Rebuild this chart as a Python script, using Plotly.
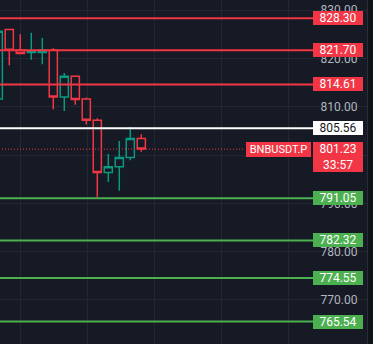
import plotly.graph_objects as go

# ---- data ----
idx = list(range(14))
opens = [811.6, 826.0, 821.7, 821.2, 821.2, 821.7, 812.0, 816.3, 811.6, 807.2, 796.4, 797.6, 799.5, 803.4]
highs = [825.6, 826.0, 825.0, 825.3, 824.2, 822.1, 817.0, 816.3, 811.9, 807.6, 800.2, 802.9, 805.8, 804.3]
lows = [811.6, 818.6, 820.9, 819.7, 818.8, 809.5, 809.1, 810.4, 806.3, 791.2, 794.4, 792.6, 798.9, 800.7]
closes = [825.6, 821.7, 821.0, 821.4, 821.7, 812.0, 816.3, 811.5, 807.2, 796.4, 797.6, 799.5, 803.4, 801.23]

red_levels = [828.30, 821.70, 814.61]
white_levels = [805.56]
green_levels = [791.05, 782.32, 774.55, 765.54]
current_price = 801.23
countdown = "33:57"
symbol = "BNBUSDT.P"
y_ticks = [770, 780, 790, 800, 810, 820, 830]

# ---- style ----
BG = "#161a25"
RED = "#f23645"
GREEN_C = "#089981"
GREEN_L = "#4caf50"
GRID = "#232733"
W, H = 373, 344
PLOT_W = 367
px_per_bar = 11.0
x0 = 0.155
yr = [760.89, 832.09]

fig = go.Figure()
fig.add_trace(go.Candlestick(
    x=idx, open=opens, high=highs, low=lows, close=closes,
    increasing=dict(line=dict(color=GREEN_C, width=1.5), fillcolor=BG),
    decreasing=dict(line=dict(color=RED, width=1.5), fillcolor=BG),
    whiskerwidth=0, hoverinfo="skip", showlegend=False,
))

lab_x = 338 / PLOT_W
lab_end = 313 / PLOT_W

def add_level(val, color, txtcolor):
    fig.add_shape(type="line", xref="x domain", yref="y", x0=0, x1=lab_end,
                  y0=val, y1=val, line=dict(color=color, width=2), layer="above")
    fig.add_annotation(xref="x domain", yref="y", x=lab_x, y=val, text=f"{val:.2f}",
                       showarrow=False, bgcolor=color, width=48, height=12, borderpad=1,
                       borderwidth=0, font=dict(family="Roboto", size=12, color=txtcolor),
                       xanchor="center", yanchor="middle")

for v in red_levels:
    add_level(v, RED, "#ffffff")
for v in white_levels:
    add_level(v, "#ffffff", "#131722")
for v in green_levels:
    add_level(v, GREEN_L, "#ffffff")

# current price dotted line
fig.add_shape(type="line", xref="x domain", yref="y", x0=2 / PLOT_W, x1=245 / PLOT_W,
              y0=current_price, y1=current_price,
              line=dict(color=RED, width=1, dash="1px,2px"), layer="above")
fig.add_annotation(xref="x domain", yref="y", x=lab_x, y=current_price,
                   text=f"{current_price:.2f}<br>{countdown}", showarrow=False,
                   bgcolor=RED, width=48, height=28, borderpad=1, borderwidth=0,
                   font=dict(family="Roboto", size=12, color="#ffffff"),
                   xanchor="center", yanchor="middle", yshift=-8)
fig.add_annotation(xref="x domain", yref="y", x=278.5 / PLOT_W, y=current_price,
                   text=symbol, showarrow=False, bgcolor=RED, width=63, height=13,
                   borderpad=1, borderwidth=0,
                   font=dict(family="Roboto", size=11, color="#ffffff"),
                   xanchor="center", yanchor="middle", yshift=-0.5)

fig.update_layout(
    width=W, height=H, margin=dict(l=0, r=0, t=0, b=0),
    paper_bgcolor="#0f1219", plot_bgcolor=BG,
    boxgap=0.26, boxgroupgap=0,
    xaxis=dict(domain=[0, PLOT_W / W], range=[x0, x0 + PLOT_W / px_per_bar],
               rangeslider=dict(visible=False), showticklabels=False,
               showgrid=True, gridcolor=GRID, gridwidth=1,
               tickmode="linear", tick0=2.02, dtick=6.09, zeroline=False, fixedrange=True),
    yaxis=dict(side="right", range=yr, tickmode="array", tickvals=y_ticks,
               ticktext=[f"{v:.2f}" for v in y_ticks], ticklabelposition="inside",
               ticks="", ticklabelstandoff=9,
               tickfont=dict(family="Roboto", size=12, color="#b2b5be"),
               showgrid=True, gridcolor=GRID, gridwidth=1, zeroline=False,
               showline=True, linecolor="#2a2e39", linewidth=1, fixedrange=True),
)

fig.write_html("out.html")
